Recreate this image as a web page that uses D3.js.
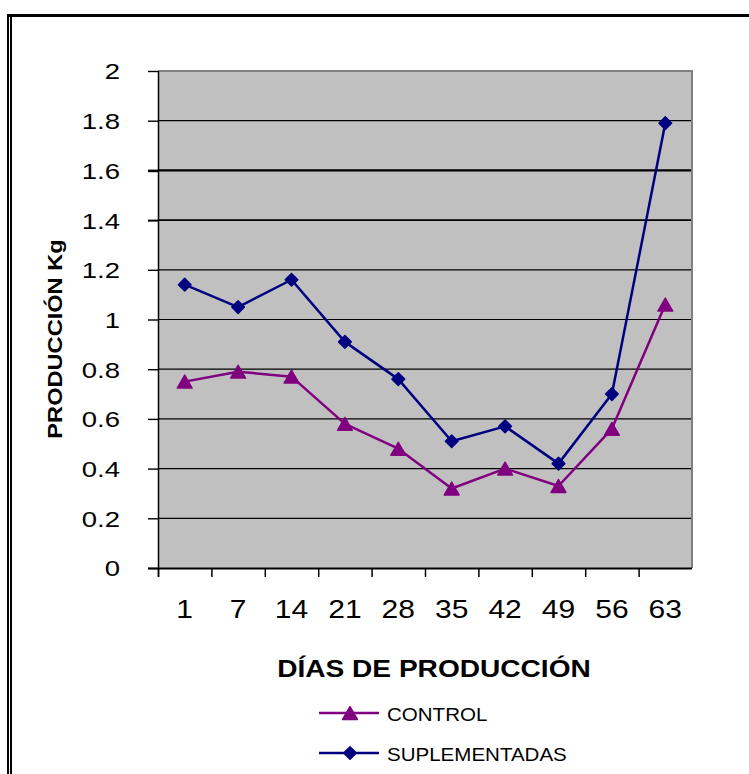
<!DOCTYPE html>
<html>
<head>
<meta charset="utf-8">
<script src="https://cdn.jsdelivr.net/npm/d3@7/dist/d3.min.js"></script>
<style>
  html, body { margin: 0; padding: 0; background: #fff; }
  svg { display: block; }
  text { font-family: "Liberation Sans", Arial, sans-serif; fill: #000; }
</style>
</head>
<body>
<svg id="chart" width="749" height="774"></svg>
<script>
// Production (kg) per sampling day
const dias = ["1", "7", "14", "21", "28", "35", "42", "49", "56", "63"];
const control = [0.75, 0.79, 0.77, 0.58, 0.48, 0.32, 0.40, 0.33, 0.56, 1.06];
const suplementadas = [1.14, 1.05, 1.16, 0.91, 0.76, 0.51, 0.57, 0.42, 0.70, 1.79];
const yTicks = [0, 0.2, 0.4, 0.6, 0.8, 1, 1.2, 1.4, 1.6, 1.8, 2];
const seriesNames = ["CONTROL", "SUPLEMENTADAS"];

const svg = d3.select("#chart");
const plot = { left: 158, right: 692, top: 71, bottom: 568 };

const x = d3.scaleBand().domain(dias).range([plot.left, plot.right]).padding(0);
const y = d3.scaleLinear().domain([0, 2]).range([plot.bottom, plot.top]);

// widen glyphs along the text direction
function stretch(sel, k) {
  sel.each(function () {
    const len = this.getComputedTextLength();
    d3.select(this).attr("textLength", len * k).attr("lengthAdjust", "spacingAndGlyphs");
  });
}

// frame: thick top rule and double rule on the left
svg.append("line").attr("x1", 7).attr("x2", 749).attr("y1", 15.5).attr("y2", 15.5)
  .attr("stroke", "#000").attr("stroke-width", 3);
svg.append("line").attr("x1", 8).attr("x2", 8).attr("y1", 14).attr("y2", 774)
  .attr("stroke", "#000").attr("stroke-width", 2);
svg.append("line").attr("x1", 11).attr("x2", 11).attr("y1", 17).attr("y2", 774)
  .attr("stroke", "#000").attr("stroke-width", 2);

// plot area
svg.append("rect")
  .attr("x", plot.left).attr("y", plot.top)
  .attr("width", plot.right - plot.left).attr("height", plot.bottom - plot.top)
  .attr("fill", "#c0c0c0");
svg.append("path")
  .attr("d", `M${plot.left},${plot.top} H${plot.right} V${plot.bottom}`)
  .attr("fill", "none").attr("stroke", "#808080").attr("stroke-width", 2);

// gridlines
const gridWidth = v => (v === 1.6 ? 2.4 : v === 1.4 ? 1.8 : 1.2);
svg.append("g").selectAll("line")
  .data(yTicks.filter(v => v > 0 && v < 2))
  .join("line")
  .attr("x1", plot.left).attr("x2", plot.right - 1)
  .attr("y1", d => y(d)).attr("y2", d => y(d))
  .attr("stroke", "#000").attr("stroke-width", d => gridWidth(d));

// y axis
const yAxis = svg.append("g")
  .attr("transform", `translate(${plot.left},0)`)
  .call(d3.axisLeft(y).tickValues(yTicks).tickSize(10).tickPadding(28)
    .tickFormat(d => String(+d.toFixed(1))));
yAxis.select(".domain").attr("stroke", "#000").attr("stroke-width", 1.5)
  .attr("d", `M0.5,${plot.top}V${plot.bottom + 9}`);
yAxis.selectAll(".tick line").attr("stroke", "#000").attr("stroke-width", d => gridWidth(d) + 0.2);
yAxis.selectAll(".tick text")
  .attr("font-size", 22).attr("dy", "0.36em").attr("fill", "#000")
  .style("font-family", "'Liberation Sans', Arial, sans-serif")
  .call(stretch, 1.25);

// x axis with ticks between categories
const xAxis = svg.append("g")
  .attr("transform", `translate(0,${plot.bottom})`)
  .call(d3.axisBottom(x).tickSize(0).tickPadding(40));
xAxis.select(".domain").attr("stroke", "#000").attr("stroke-width", 2)
  .attr("d", `M148,0.5H${plot.right}`);
xAxis.selectAll(".tick text")
  .attr("font-size", 25).attr("dy", "0").attr("fill", "#000")
  .attr("y", 50)
  .style("font-family", "'Liberation Sans', Arial, sans-serif")
  .call(stretch, 1.2);
svg.append("g").selectAll("line")
  .data(dias)
  .join("line")
  .attr("x1", d => x(d) + 0.5).attr("x2", d => x(d) + 0.5)
  .attr("y1", plot.bottom).attr("y2", plot.bottom + 9)
  .attr("stroke", "#000").attr("stroke-width", 1.5);

// axis titles
svg.append("text")
  .attr("transform", "translate(62,339) rotate(-90)")
  .attr("text-anchor", "middle")
  .attr("font-size", 20).attr("font-weight", "bold")
  .text("PRODUCCIÓN Kg")
  .call(stretch, 1.18);
svg.append("text")
  .attr("x", 434).attr("y", 677)
  .attr("text-anchor", "middle")
  .attr("font-size", 24).attr("font-weight", "bold")
  .text("DÍAS DE PRODUCCIÓN")
  .call(stretch, 1.17);

// markers
const triangleType = {
  draw(ctx, size) {
    const w = Math.sqrt(size * 4 / Math.sqrt(3));
    const h = w * Math.sqrt(3) / 2;
    ctx.moveTo(0, -h / 2);
    ctx.lineTo(w / 2, h / 2);
    ctx.lineTo(-w / 2, h / 2);
    ctx.closePath();
  }
};
const diamondType = {
  draw(ctx, size) {
    const r = Math.sqrt(size / 2);
    ctx.moveTo(0, -r);
    ctx.lineTo(r, 0);
    ctx.lineTo(0, r);
    ctx.lineTo(-r, 0);
    ctx.closePath();
  }
};

const series = [
  { name: seriesNames[0], values: control, color: "#800080", symbol: triangleType, size: 95 },
  { name: seriesNames[1], values: suplementadas, color: "#000080", symbol: diamondType, size: 80 }
];

const line = d3.line()
  .x((d, i) => x(dias[i]) + x.bandwidth() / 2)
  .y(d => y(d));

series.forEach(s => {
  const g = svg.append("g");
  g.append("path").attr("d", line(s.values))
    .attr("fill", "none").attr("stroke", s.color).attr("stroke-width", 2.5)
    .attr("stroke-linejoin", "round");
  g.selectAll("path.m")
    .data(s.values)
    .join("path").attr("class", "m")
    .attr("transform", (d, i) => `translate(${x(dias[i]) + x.bandwidth() / 2},${y(d)})`)
    .attr("d", d3.symbol(s.symbol, s.size))
    .attr("fill", s.color).attr("stroke", s.color).attr("stroke-width", 1.5)
    .attr("stroke-linejoin", "round");
});

// legend
const legend = svg.append("g");
series.forEach((s, i) => {
  const ly = 713 + i * 40;
  legend.append("line").attr("x1", 319).attr("x2", 379).attr("y1", ly).attr("y2", ly)
    .attr("stroke", s.color).attr("stroke-width", 2.5);
  legend.append("path").attr("transform", `translate(350,${ly})`)
    .attr("d", d3.symbol(s.symbol, s.size))
    .attr("fill", s.color).attr("stroke", s.color).attr("stroke-width", 1.5)
    .attr("stroke-linejoin", "round");
  legend.append("text").attr("x", 387).attr("y", ly + 8)
    .attr("font-size", 19)
    .text(s.name)
    .call(stretch, 1.08);
});
</script>
</body>
</html>
